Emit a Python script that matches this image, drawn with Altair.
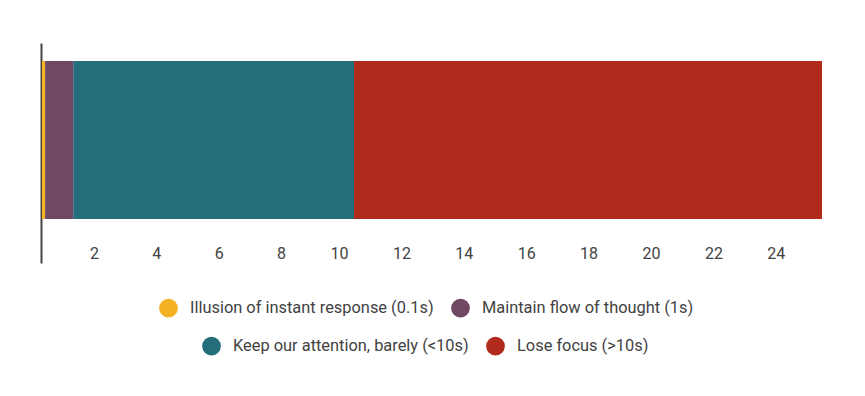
import altair as alt
import pandas as pd

categories = [
    "Illusion of instant response (0.1s)",
    "Maintain flow of thought (1s)",
    "Keep our attention, barely (<10s)",
    "Lose focus (>10s)",
]
starts = [0, 0.1, 1, 10]
ends = [0.1, 1, 10, 25]
legend_row = [1, 1, 2, 2]
colors = ["#F4B223", "#704864", "#246E7B", "#B12B1D"]
tick_values = [2, 4, 6, 8, 10, 12, 14, 16, 18, 20, 22, 24]

df = pd.DataFrame({
    "category": categories,
    "start": starts,
    "end": ends,
    "legend_row": legend_row,
    "row": ["Response time"] * 4,
})

FONT = "Roboto"
LABEL_COLOR = "#424242"

x_enc = alt.X(
    "start:Q",
    scale=alt.Scale(domain=[0, 25], nice=False, zero=True),
    axis=alt.Axis(
        values=tick_values, title=None, grid=False, domain=False, ticks=False,
        labelAlign="right", labelOffset=-6, labelBaseline="middle",
        labelPadding=8, offset=-18, labelFont=FONT, labelFontSize=16,
        labelColor=LABEL_COLOR, labelOverlap=False, labelFlush=False,
    ),
)
y_enc = alt.Y(
    "row:N",
    scale=alt.Scale(paddingInner=0, paddingOuter=0.196, align=0.29),
    axis=alt.Axis(
        title=None, labels=False, ticks=False, grid=False, domain=True,
        domainColor="#444444", domainWidth=2, offset=1,
    ),
)


def legend(x, y):
    return alt.Legend(
        title=None, orient="none", legendX=x, legendY=y, direction="horizontal",
        columns=2, padding=0, symbolType="circle", symbolSize=350,
        symbolStrokeWidth=0, labelFont=FONT, labelFontSize=16.4,
        labelColor=LABEL_COLOR, labelOffset=12, columnPadding=17,
        labelLimit=400,
    )


layer_a = alt.Chart(df).transform_filter(alt.datum.legend_row == 1).mark_bar().encode(
    x=x_enc,
    x2="end:Q",
    y=y_enc,
    color=alt.Color(
        "category:N",
        scale=alt.Scale(domain=categories[:2], range=colors[:2]),
        legend=legend(117, 255.5),
    ),
)

layer_b = alt.Chart(df).transform_filter(alt.datum.legend_row == 2).mark_bar().encode(
    x=x_enc,
    x2="end:Q",
    y=y_enc,
    fill=alt.Fill(
        "category:N",
        scale=alt.Scale(domain=categories[2:], range=colors[2:]),
        legend=legend(160, 293.5),
    ),
)

chart = alt.layer(layer_a, layer_b).properties(
    width=780,
    height=220,
    autosize=alt.AutoSizeParams(type="none"),
    padding={"left": 34, "top": 35, "right": 35, "bottom": 125},
    background="white",
).configure_view(stroke=None)

chart.save("out.html", embed_options={"renderer": "svg", "actions": False})
